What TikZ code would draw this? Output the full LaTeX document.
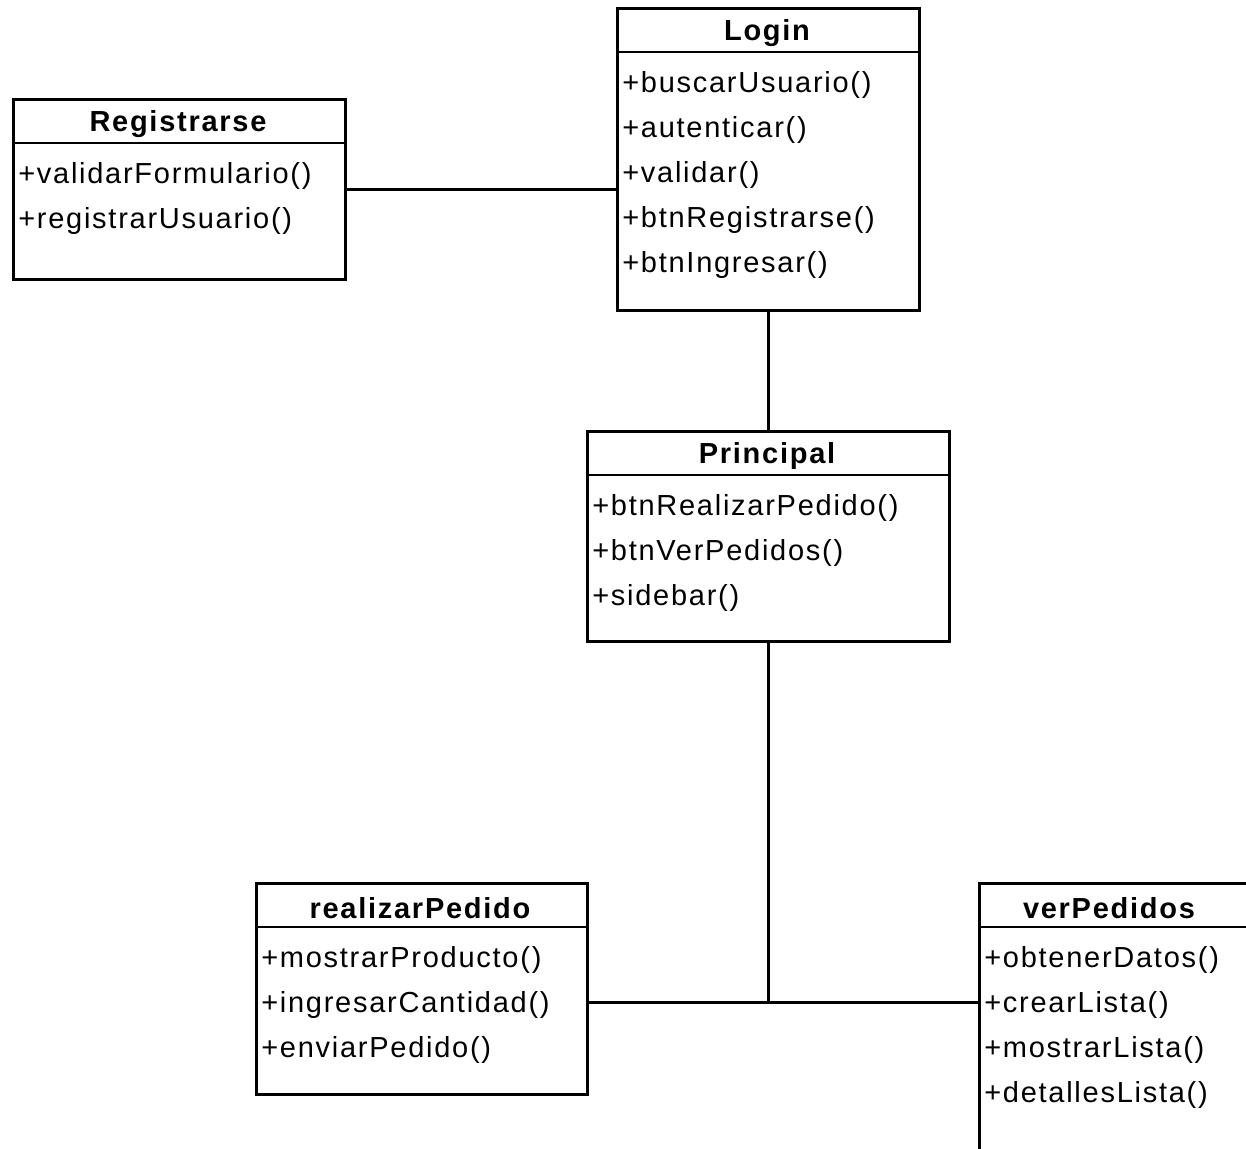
\documentclass[tikz,border=0pt]{standalone}
\usepackage{fontspec}
\setmainfont{Liberation Sans}[LetterSpace=6]
\usetikzlibrary{calc}

% one unit = one pixel of the 1246 x 1149 canvas, y grows downwards
\tikzset{
  px/.style={x=0.75pt, y=-0.75pt},
  classbox/.style={draw, line width=2.25pt, anchor=north west, inner sep=0pt, fill=white},
  sepline/.style={line width=2pt},
  titletext/.style={inner sep=0pt, font=\fontsize{21.75pt}{26pt}\selectfont\bfseries},
  methodtext/.style={inner sep=0pt, anchor=west, font=\fontsize{21.75pt}{26pt}\selectfont},
  link/.style={line width=2.25pt}
}

% \umlclass{name}{left}{top}{width}{height}{title centre from left}{title}{methods}
\newcommand\umlclass[8]{%
  \node[classbox, minimum width=#4*0.75pt, minimum height=#5*0.75pt] (#1) at (#2,#3) {};
  \draw[sepline] ($(#1.north west)+(0,45)$) -- ($(#1.north east)+(0,45)$);
  \node[titletext] (#1-title) at ($(#1.north west)+(#6,26)$) {#7};
  \foreach \m [count=\i] in {#8} {
    \node[methodtext] (#1-m\i) at ($(#1.north west)+(6,33+45*\i)$) {\m};
  }%
}

\begin{document}
\begin{tikzpicture}[px]
  \useasboundingbox (0,0) rectangle (1246,1149);
  \clip (0,0) rectangle (1246,1149);
  \fill[white] (0,0) rectangle (1246,1149);

  \umlclass{Registrarse}{12}{98}{332}{180}{166}{Registrarse}%
    {+validarFormulario(),+registrarUsuario()}
  \umlclass{Login}{616}{7}{302}{302}{151}{Login}%
    {+buscarUsuario(),+autenticar(),+validar(),+btnRegistrarse(),+btnIngresar()}
  \umlclass{Principal}{586}{430}{362}{210}{181}{Principal}%
    {+btnRealizarPedido(),+btnVerPedidos(),+sidebar()}
  \umlclass{realizarPedido}{255}{882}{331}{211}{165}{realizarPedido}%
    {+mostrarProducto(),+ingresarCantidad(),+enviarPedido()}
  \umlclass{verPedidos}{978}{882}{320}{320}{131}{verPedidos}%
    {+obtenerDatos(),+crearLista(),+mostrarLista(),+detallesLista()}

  % junction where the two lower classes meet the line from Principal
  \coordinate (j) at ($(Principal.south |- 0,1002)$);

  \draw[link] (Registrarse.east) -- (Registrarse.east -| Login.west);
  \draw[link] (Login.south) -- (Login.south |- Principal.north);
  \draw[link] (Principal.south) -- (j);
  \draw[link] (realizarPedido.east |- j) -- (verPedidos.west |- j);
\end{tikzpicture}
\end{document}
